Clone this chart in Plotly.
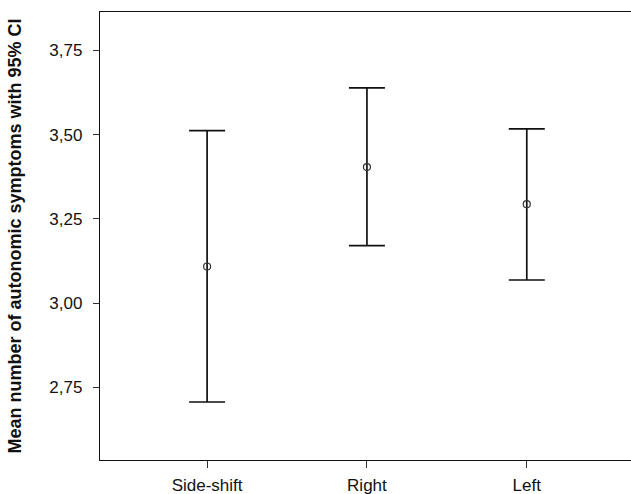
import plotly.graph_objects as go

categories = ["Side-shift", "Right", "Left"]
means = [3.109, 3.404, 3.294]
ci_lower = [2.707, 3.171, 3.069]
ci_upper = [3.512, 3.639, 3.517]
y_ticks = [2.75, 3.00, 3.25, 3.50, 3.75]
y_tick_labels = ["2,75", "3,00", "3,25", "3,50", "3,75"]

err_plus = [u - m for u, m in zip(ci_upper, means)]
err_minus = [m - l for m, l in zip(means, ci_lower)]

FONT = "Liberation Sans, Arial, sans-serif"

fig = go.Figure()
fig.add_trace(go.Scatter(
    x=[0, 1, 2],
    y=means,
    mode="markers",
    marker=dict(symbol="circle-open", size=7, color="#333333", line=dict(width=1.2)),
    error_y=dict(
        type="data",
        symmetric=False,
        array=err_plus,
        arrayminus=err_minus,
        color="#111111",
        thickness=1.7,
        width=18,
    ),
    showlegend=False,
))

fig.update_layout(
    width=631,
    height=494,
    margin=dict(l=100, r=0, t=12, b=34),
    paper_bgcolor="white",
    plot_bgcolor="white",
    font=dict(family=FONT, size=17, color="#111111"),
    xaxis=dict(
        range=[-0.67, 2.652],
        automargin=False,
        tickmode="array",
        tickvals=[0, 1, 2],
        ticktext=categories,
        showgrid=False,
        zeroline=False,
        showline=True,
        linecolor="#111111",
        linewidth=1.3,
        mirror=True,
        ticks="outside",
        ticklen=7,
        tickwidth=1,
        tickcolor="#333333",
        ticklabelstandoff=2,
        tickfont=dict(size=17),
    ),
    yaxis=dict(
        range=[2.535, 3.864],
        automargin=False,
        tickmode="array",
        tickvals=y_ticks,
        ticktext=y_tick_labels,
        showgrid=False,
        zeroline=False,
        showline=True,
        linecolor="#111111",
        linewidth=1.3,
        mirror=False,
        ticks="outside",
        ticklen=6,
        tickwidth=1,
        tickcolor="#333333",
        ticklabelstandoff=7,
        tickfont=dict(size=17),
        title=dict(
            text="<b>Mean number of autonomic symptoms with 95% CI</b>",
            font=dict(size=18, family=FONT, color="#111111"),
            standoff=23,
        ),
    ),
)

fig.write_html("out.html", config={"displayModeBar": False})

# remove the browser's default page margin so the figure sits at the window's corner
with open("out.html", "r", encoding="utf-8") as f:
    html = f.read()
html = html.replace("<head>", "<head><style>html,body{margin:0;padding:0;overflow:hidden;}</style>", 1)
with open("out.html", "w", encoding="utf-8") as f:
    f.write(html)
